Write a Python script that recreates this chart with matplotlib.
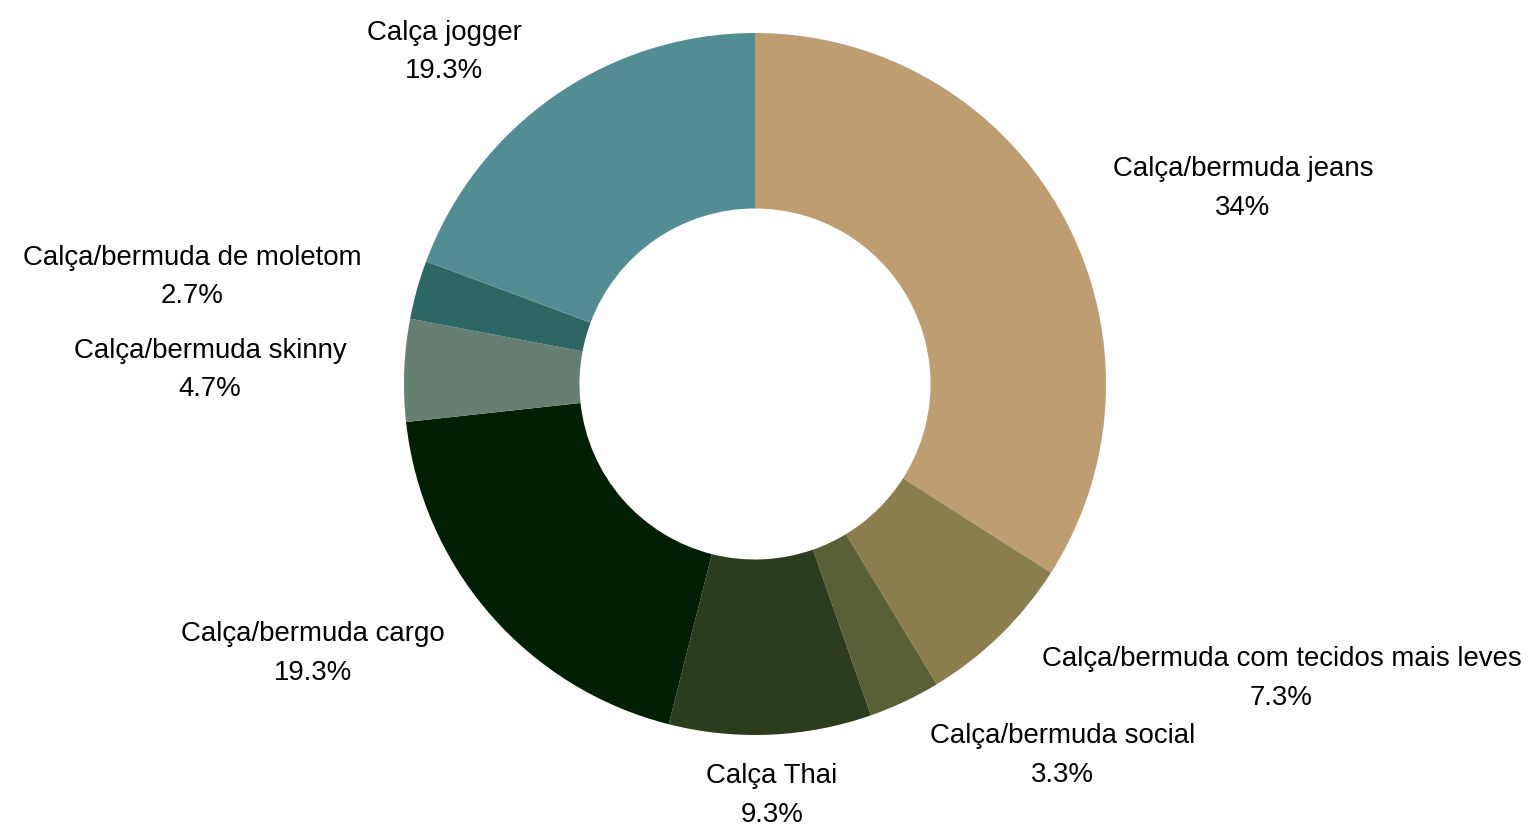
import matplotlib.pyplot as plt

plt.rcParams['font.family'] = ['Liberation Sans', 'DejaVu Sans']

categories = ['Calça/bermuda jeans', 'Calça/bermuda com tecidos mais leves',
              'Calça/bermuda social', 'Calça Thai', 'Calça/bermuda cargo',
              'Calça/bermuda skinny', 'Calça/bermuda de moletom', 'Calça jogger']
shares = [34, 7.3, 3.3, 9.3, 19.3, 4.7, 2.7, 19.3]
share_labels = ['34%', '7.3%', '3.3%', '9.3%', '19.3%', '4.7%', '2.7%', '19.3%']
colors = ['#bf9d72', '#8a7e4f', '#5a6035', '#2c3d1e', '#011f05',
          '#667f73', '#2e6663', '#548c94']

# label centres, in units of the outer radius (layout only)
label_pos = [(1.39, 0.556), (1.50, -0.840), (0.877, -1.059), (0.048, -1.173),
             (-1.26, -0.768), (-1.553, 0.040), (-1.604, 0.305), (-0.886, 0.946)]

fig = plt.figure(figsize=(15.34, 8.27), dpi=100)
ax = fig.add_axes([0, 0, 1, 1])

ax.pie(shares, colors=colors, startangle=90, counterclock=False,
       radius=1.0, wedgeprops=dict(width=0.5, linewidth=0))

for name, pct, (lx, ly) in zip(categories, share_labels, label_pos):
    ax.text(lx, ly, name + '\n' + pct, ha='center', va='center',
            fontsize=19.9, linespacing=1.64, color='black')

scale = 351.0
ax.set_xlim(-755 / scale, (1534 - 755) / scale)
ax.set_ylim(-(827 - 384) / scale, 384 / scale)
ax.set_aspect('auto')
ax.axis('off')

fig.savefig('out.png', dpi=100)
